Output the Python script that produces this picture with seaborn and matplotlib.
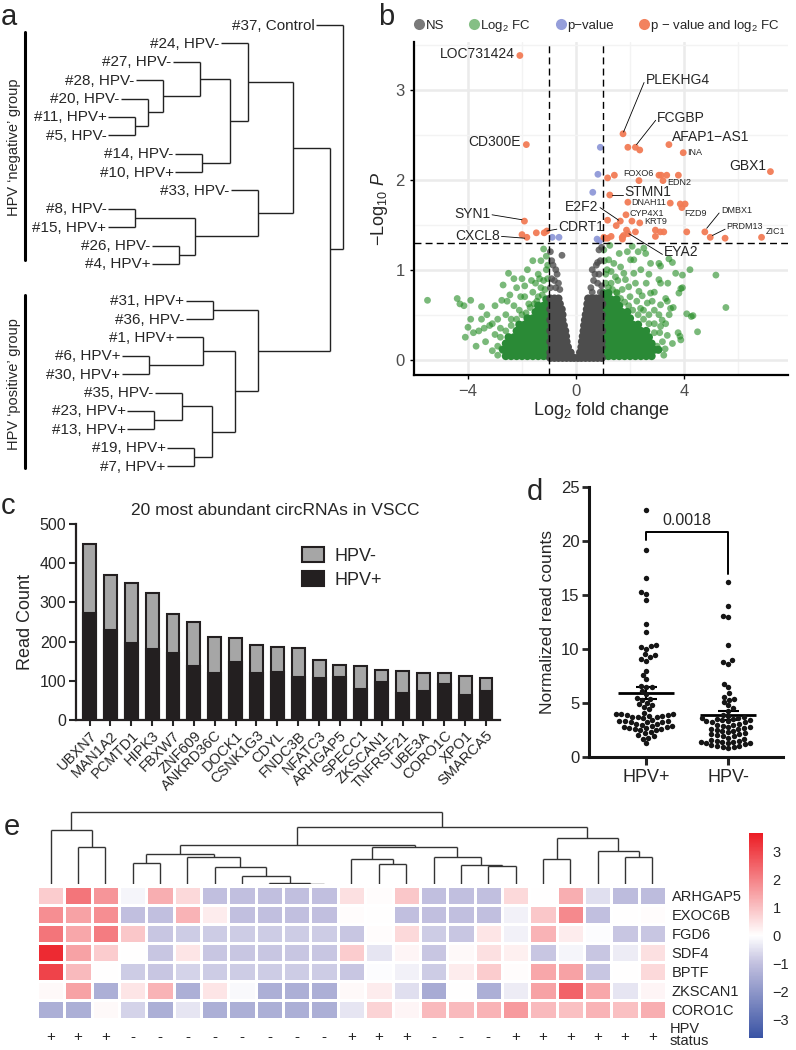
import numpy as np
import pandas as pd
import matplotlib
matplotlib.use("Agg")
import matplotlib.pyplot as plt
import seaborn as sns
from matplotlib.colors import LinearSegmentedColormap
from matplotlib.lines import Line2D
from matplotlib.patches import Patch

# ====================== DATA ======================
# ---- panel a: hierarchical clustering of samples (leaf, leaf, merge height) ----
neg_a = (("#24, HPV-",
          (("#27, HPV-", ("#28, HPV-", ("#20, HPV-", ("#11, HPV+", "#5, HPV-", 135), 148), 163), 200),
           ("#14, HPV-", "#10, HPV+", 202), 230), 248),
         ("#33, HPV-",
          (("#8, HPV-", "#15, HPV+", 135), ("#26, HPV-", "#4, HPV+", 179), 195), 258), 293)
pos_a = (("#31, HPV+", "#36, HPV-", 213),
         (("#1, HPV+", ("#6, HPV+", "#30, HPV+", 149), 203),
          (("#35, HPV-", ("#23, HPV+", "#13, HPV+", 154), 182), ("#19, HPV+", "#7, HPV+", 194), 212), 235), 258)
tree_a = ("#37, Control", (neg_a, pos_a, 330), 343)
group_labels_a = ["HPV \u2018negative\u2019 group", "HPV \u2018positive\u2019 group"]

# ---- panel b: volcano plot ----
orange_pts = [(-2.08, 3.38), (-1.84, 2.39), (-1.91, 1.54), (-1.82, 1.36), (-2.0, 1.39), (-1.47, 1.41),
              (-1.18, 1.41), (-1.08, 1.43), (1.74, 2.51), (1.92, 2.36), (2.20, 2.36), (2.36, 2.33),
              (3.44, 2.39), (3.97, 2.30), (7.20, 2.09), (1.17, 2.02), (1.42, 2.05), (2.33, 1.99),
              (3.07, 2.05), (3.15, 2.05), (3.36, 2.05), (3.79, 2.05), (3.22, 1.99), (1.25, 1.83),
              (1.92, 1.75), (3.49, 1.74), (3.86, 1.73), (4.04, 1.73), (3.92, 1.69), (1.85, 1.61),
              (1.64, 1.54), (1.49, 1.49), (1.17, 1.55), (2.07, 1.54), (2.36, 1.52), (1.87, 1.44),
              (2.20, 1.42), (2.94, 1.44), (3.12, 1.42), (3.25, 1.42), (4.10, 1.42), (4.77, 1.42),
              (4.97, 1.36), (5.52, 1.35), (6.87, 1.36), (1.03, 1.36), (1.08, 1.35), (1.17, 1.35),
              (1.30, 1.37), (1.71, 1.36), (1.76, 1.38), (1.93, 1.40), (2.94, 1.37), (1.72, 1.34)]
blue_pts = [(0.90, 2.36), (0.81, 2.06), (0.62, 1.86), (-0.88, 1.36), (-0.63, 1.36), (0.78, 1.34), (0.87, 1.32)]
green_sparse = [(-5.5, 0.66), (-4.4, 0.68), (-4.15, 0.6), (-3.9, 0.66), (-4.3, 0.62), (-3.5, 0.59), (-4.1, 0.25),
                (-4.0, 0.36), (-3.8, 0.3), (-3.6, 0.32), (-3.9, 0.45), (-3.5, 0.45), (-3.3, 0.5), (-3.2, 0.38),
                (-3.0, 0.28), (-3.1, 0.4), (-2.9, 0.45), (-2.8, 0.35), (-2.75, 0.66), (-2.7, 0.83), (-2.5, 0.96),
                (-2.45, 0.72), (-2.3, 0.6), (-2.2, 0.8), (-2.0, 0.9), (-1.9, 0.7), (-1.8, 1.0), (-1.6, 1.1),
                (-1.5, 0.85), (-1.4, 0.95), (-1.3, 1.1), (-1.2, 1.23), (-1.1, 1.0), (-1.05, 0.9), (-1.3, 0.8),
                (-1.6, 0.75), (-2.1, 0.55), (-3.35, 0.2), (-3.7, 0.15), (-2.6, 0.5), (-2.4, 0.45), (-2.9, 0.15),
                (-1.1, 1.15), (-1.45, 0.65), (-1.75, 0.62), (-2.05, 0.7),
                (-1.15, 0.78), (-1.25, 0.72), (-1.4, 0.7), (-1.55, 0.62), (-1.7, 0.58), (-1.85, 0.52),
                (-2.0, 0.5), (-2.2, 0.45), (-2.4, 0.38), (-2.6, 0.32), (-2.8, 0.25), (-2.75, 0.12),
                (-2.9, 0.05), (-3.1, 0.1), (-1.2, 0.88), (-1.35, 0.9), (-1.65, 0.88), (-1.9, 0.82),
                (-2.3, 0.9), (-1.05, 1.05), (-3.0, 0.6), (-3.4, 0.35), (-2.55, 0.65),
                (2.08, 1.26), (2.51, 1.24), (2.58, 1.18), (2.02, 1.11), (2.14, 1.11), (2.76, 1.07), (3.07, 1.07),
                (3.13, 1.04), (3.44, 1.12), (3.57, 1.08), (4.22, 1.0), (5.18, 0.94), (5.55, 0.58), (4.5, 0.31),
                (4.27, 0.48), (4.1, 0.51), (3.85, 0.26), (3.78, 0.3), (3.38, 0.27), (3.57, 0.18), (3.88, 0.22),
                (3.69, 0.96), (3.94, 0.94), (3.07, 0.89), (3.13, 0.85), (3.88, 0.79), (3.94, 0.8), (3.81, 0.74),
                (3.32, 0.68), (3.38, 0.65), (3.5, 0.57), (3.6, 0.58), (3.13, 0.61), (3.07, 0.5), (3.19, 0.44),
                (3.32, 0.4), (3.13, 0.37), (2.76, 0.74), (2.82, 0.65), (2.64, 0.63), (2.39, 0.57), (2.14, 0.96),
                (2.2, 0.85), (2.33, 0.76), (2.45, 0.71), (1.65, 1.03), (1.77, 0.96), (1.46, 0.92), (1.4, 1.07),
                (1.83, 0.89), (1.95, 0.81), (1.71, 0.78), (1.52, 0.74), (1.03, 1.22), (1.21, 1.11), (1.1, 0.95),
                (1.3, 0.85), (2.9, 0.3), (3.0, 0.15), (2.7, 0.5), (2.5, 0.55), (2.9, 0.55), (3.3, 0.12),
                (3.45, 0.5), (2.3, 1.2), (1.6, 1.18), (1.25, 1.27), (1.9, 1.2), (4.33, 0.49),
                (1.1, 0.85), (1.2, 0.8), (1.35, 0.78), (1.5, 0.75), (1.65, 0.68), (1.8, 0.64), (1.95, 0.6),
                (2.1, 0.55), (2.3, 0.5), (2.5, 0.45), (2.7, 0.4), (2.9, 0.4), (3.1, 0.3), (3.2, 0.2),
                (3.25, 0.05), (1.15, 1.0), (1.3, 0.98), (1.55, 0.88), (2.0, 0.7), (2.25, 0.65), (2.6, 0.85),
                (2.9, 0.75), (3.4, 0.85), (1.05, 1.1), (2.4, 1.0), (2.7, 0.95)]
green_dense_y = [0.04, 0.11, 0.18, 0.25, 0.32, 0.39, 0.46, 0.53, 0.60, 0.67, 0.74]
green_dense_x = [
    [-2.6, -2.4, -2.2, -2.0, -1.8, -1.6, -1.4, -1.2, -1.02, 1.02, 1.2, 1.4, 1.6, 1.8, 2.0, 2.2, 2.4, 2.6, 2.8],
    [-2.7, -2.5, -2.3, -2.1, -1.9, -1.7, -1.5, -1.3, -1.1, 1.1, 1.3, 1.5, 1.7, 1.9, 2.1, 2.3, 2.5, 2.7, 2.9, 3.05],
    [-2.6, -2.4, -2.2, -2.0, -1.8, -1.6, -1.4, -1.2, -1.02, 1.02, 1.2, 1.4, 1.6, 1.8, 2.0, 2.2, 2.4, 2.6, 2.8],
    [-2.5, -2.3, -2.1, -1.9, -1.7, -1.5, -1.3, -1.1, 1.1, 1.3, 1.5, 1.7, 1.9, 2.1, 2.3, 2.5, 2.7],
    [-2.2, -2.0, -1.8, -1.6, -1.4, -1.2, -1.02, 1.02, 1.2, 1.4, 1.6, 1.8, 2.0, 2.2, 2.4, 2.6],
    [-2.1, -1.9, -1.7, -1.5, -1.3, -1.1, 1.1, 1.3, 1.5, 1.7, 1.9, 2.1, 2.3],
    [-1.8, -1.6, -1.4, -1.2, -1.02, 1.02, 1.2, 1.4, 1.6, 1.8, 2.0],
    [-1.5, -1.3, -1.1, 1.1, 1.3, 1.5, 1.7, 1.9],
    [-1.4, -1.2, -1.02, 1.02, 1.2, 1.4, 1.6],
    [-1.1, 1.1, 1.3, 1.5],
    [1.02, 1.2]]
grey_sparse = [(-0.95, 1.2), (-0.9, 1.1), (-0.85, 1.05), (-0.75, 1.0), (-0.7, 0.95), (-0.9, 0.9), (-0.8, 0.88),
               (-0.65, 0.85), (-0.75, 0.8), (-0.6, 0.78), (-0.95, 0.8), (-0.52, 1.16), (0.85, 1.22), (0.95, 1.25),
               (0.9, 1.1), (0.8, 1.08), (0.75, 1.05), (0.6, 1.0), (0.7, 0.95), (0.85, 0.95), (0.65, 0.88),
               (0.8, 0.85), (0.55, 0.8), (0.95, 0.82), (0.9, 0.75), (0.6, 0.75)]
grey_dense_y = [0.02, 0.08, 0.14, 0.20, 0.26, 0.32, 0.38, 0.44, 0.50, 0.56, 0.62, 0.68]
grey_dense_x = [
    [-0.95, -0.8, -0.65, -0.5, -0.35, -0.2, -0.07, 0.07, 0.2, 0.35, 0.5, 0.65, 0.8, 0.95],
    [-0.95, -0.8, -0.65, -0.5, -0.35, -0.2, 0.15, 0.3, 0.45, 0.6, 0.75, 0.9],
    [-0.9, -0.75, -0.6, -0.45, -0.3, 0.2, 0.35, 0.5, 0.65, 0.8, 0.95],
    [-0.95, -0.8, -0.65, -0.5, -0.35, 0.22, 0.37, 0.52, 0.67, 0.82, 0.95],
    [-0.9, -0.75, -0.6, -0.45, -0.37, 0.25, 0.4, 0.55, 0.7, 0.85],
    [-0.95, -0.8, -0.65, -0.5, -0.4, 0.28, 0.43, 0.58, 0.73, 0.88, 0.97],
    [-0.9, -0.75, -0.6, -0.45, 0.3, 0.45, 0.6, 0.75, 0.9],
    [-0.95, -0.8, -0.65, -0.5, 0.33, 0.48, 0.63, 0.78, 0.93],
    [-0.9, -0.75, -0.6, -0.5, 0.36, 0.5, 0.65, 0.8, 0.95],
    [-0.95, -0.8, -0.65, -0.53, 0.4, 0.55, 0.7, 0.85],
    [-0.9, -0.75, -0.6, 0.42, 0.57, 0.72, 0.87, 0.97],
    [-0.95, -0.8, -0.65, 0.45, 0.6, 0.75, 0.9]]
# gene labels: name, point(x,y), text(x,y), size, ha
volcano_labels = [
    ("LOC731424", None, (-2.26, 3.40), 10, "right"),
    ("PLEKHG4", (1.76, 2.53), (2.58, 3.11), 10, "left"),
    ("FCGBP", (2.24, 2.39), (3.01, 2.69), 10, "left"),
    ("AFAP1\u2212AS1", None, (3.57, 2.47), 10, "left"),
    ("GBX1", None, (7.06, 2.15), 10, "right"),
    ("CD300E", None, (-2.05, 2.42), 10, "right"),
    ("STMN1", (1.34, 1.83), (1.80, 1.86), 10, "left"),
    ("E2F2", (1.58, 1.55), (0.84, 1.70), 10, "right"),
    ("SYN1", (-2.0, 1.555), (-3.16, 1.62), 10, "right"),
    ("CDRT1", (-1.08, 1.43), (-0.65, 1.48), 10, "left"),
    ("CXCL8", (-1.9, 1.35), (-2.81, 1.38), 10, "right"),
    ("EYA2", (1.96, 1.40), (3.26, 1.20), 10, "left"),
    ("INA", None, (4.13, 2.30), 6.5, "left"),
    ("FOXO6", None, (1.75, 2.07), 6.5, "left"),
    ("EDN2", None, (3.38, 1.97), 6.5, "left"),
    ("DNAH11", None, (2.06, 1.75), 6.5, "left"),
    ("FZD9", None, (4.0, 1.62), 6.5, "left"),
    ("CYP4X1", None, (1.99, 1.63), 6.5, "left"),
    ("KRT9", None, (2.51, 1.54), 6.5, "left"),
    ("DMBX1", (4.84, 1.46), (5.36, 1.66), 6.5, "left"),
    ("PRDM13", (5.05, 1.38), (5.58, 1.48), 6.5, "left"),
    ("ZIC1", None, (7.01, 1.42), 6.5, "left"),
]
fc_cutoff = 1.0
p_cutoff = 1.30103

# ---- panel c: stacked bars ----
circ_names = ["UBXN7", "MAN1A2", "PCMTD1", "HIPK3", "FBXW7", "ZNF609", "ANKRD36C", "DOCK1", "CSNK1G3", "CDYL",
              "FNDC3B", "NFATC3", "ARHGAP5", "SPECC1", "ZKSCAN1", "TNFRSF21", "UBE3A", "CORO1C", "XPO1", "SMARCA5"]
circ_total = [449, 371, 349, 325, 270, 251, 212, 208, 191, 187, 184, 153, 140, 137, 127, 125, 121, 121, 113, 106]
circ_hpv_pos = [273, 229, 197, 181, 172, 137, 119, 147, 121, 123, 110, 108, 110, 78, 98, 68, 75, 92, 64, 75]

# ---- panel d: normalized read counts ----
groups_d = ["HPV+", "HPV-"]
counts_hpv_pos = [22.9, 19.2, 16.6, 15.3, 15.1, 14.5, 12.3, 11.6, 10.4, 10.3, 10.2, 10.0, 9.5, 9.4, 9.3, 9.1,
                  8.9, 8.0, 7.6, 7.2, 6.6, 6.5, 6.5, 6.1, 5.8, 5.5, 5.4, 5.3, 5.0, 4.9, 4.8, 4.6, 4.4,
                  4.1, 4.0, 4.0, 4.0, 3.9, 3.9, 3.8, 3.8, 3.7, 3.7, 3.7, 3.6, 3.4, 3.3, 3.3, 3.3, 3.2, 3.2,
                  3.2, 3.1, 3.1, 3.0, 2.9, 2.9, 2.8, 2.8, 2.7, 2.7, 2.6, 2.6, 2.5, 2.5, 2.3, 2.2, 2.0, 1.9,
                  1.8, 1.7, 1.3]
counts_hpv_neg = [16.2, 14.0, 13.1, 13.0, 10.4, 9.0, 8.8, 8.6, 6.8, 6.5, 5.9, 5.6, 5.4, 5.3, 5.1, 4.8, 4.5, 4.3,
                  3.9, 3.8, 3.7, 3.6, 3.6, 3.5, 3.5, 3.4, 3.4, 3.3, 3.3, 3.2, 3.2, 3.1, 3.0, 3.0, 2.9, 2.8,
                  2.8, 2.7, 2.6, 2.6, 2.5, 2.4, 2.4, 2.3, 2.2, 2.1, 2.1, 2.0, 1.9, 1.9, 1.8, 1.7, 1.6, 1.5,
                  1.5, 1.4, 1.4, 1.4, 1.3, 1.3, 1.3, 1.2, 1.1, 1.0, 1.0, 0.9, 0.9, 0.8]
p_value_text = "0.0018"

# ---- panel e: heatmap ----
heat_genes = ["ARHGAP5", "EXOC6B", "FGD6", "SDF4", "BPTF", "ZKSCAN1", "CORO1C"]
heat_status = ["+", "+", "+", "-", "-", "-", "-", "-", "-", "-", "-", "+", "+", "+", "-", "-", "-",
               "+", "+", "+", "+", "+", "+"]
heat_values = [
    [0.8, 2.2, 1.7, -0.15, 1.3, 0.6, -1.0, -1.0, -1.0, -1.0, -1.0, 0.5, 0.05, 0.9, -1.0, -1.0, -1.0, 0.6, 0.0, 1.3, -0.5, -1.1, -1.1],
    [1.8, 1.5, 1.8, -1.0, -1.0, 1.2, 0.3, -1.0, -1.0, -1.0, -1.0, 0.05, 0.0, -1.0, -1.0, -1.0, -1.0, -0.2, 0.9, 1.9, -1.0, 0.0, 0.05],
    [2.2, 1.4, 2.1, 0.9, -0.9, -0.8, -0.8, -0.8, -0.8, -0.8, -0.8, -0.9, 0.05, 0.6, -0.8, -0.9, 0.4, -0.2, 1.2, 0.3, -0.05, -0.9, -0.9],
    [3.4, 1.5, 0.8, 0.0, -0.9, 0.4, -0.9, -0.9, -0.9, -0.9, -0.9, 0.8, -0.4, 0.15, -0.9, 0.1, 0.5, 0.25, -0.9, -0.15, -0.9, -0.3, 0.5],
    [3.0, 1.1, 0.0, -0.8, -0.9, -0.7, -0.8, -0.8, -0.8, -0.8, -0.8, -0.9, -0.05, -0.2, -0.8, 0.3, 0.8, 0.05, 1.4, 1.5, -0.9, 0.0, 0.6],
    [0.1, 1.5, -1.4, 0.4, 1.2, -1.4, 0.4, -0.1, -1.4, -1.4, -1.4, 0.1, 0.3, -0.5, -1.5, 0.0, -1.4, -0.3, 1.5, 2.5, 1.4, -0.4, 0.15],
    [-1.4, -1.4, 0.1, -0.7, -1.4, -0.4, -1.4, -1.4, -1.4, -1.4, -1.4, -0.4, 0.7, 0.15, 1.1, 1.1, 1.2, 1.6, 1.1, 1.0, 1.2, 1.0, 1.3]]
# column dendrogram (leaf index, leaf index, merge height)
tree_e = ((0, (1, 2, 36.7), 54),
          ((((3, 4, 21.3), (5, (6, (7, (8, (9, 10, 0.3), 0.6), 8), 16.7), 27), 30),
            ((11, (12, 13, 20), 24.7), (14, (15, (16, 17, 18), 18.7), 27.3), 36.7), 39),
           ((18, 19, 25), (20, (21, 22, 27.3), 33.3), 45.7), 57.3), 71.7)
heat_range = 3.65

# ====================== STYLE ======================
sns.set_theme(style="ticks")
plt.rcParams["font.family"] = ["Liberation Sans", "DejaVu Sans"]
plt.rcParams["mathtext.fontset"] = "custom"
plt.rcParams["mathtext.rm"] = "Liberation Sans"
plt.rcParams["mathtext.it"] = "Liberation Sans:italic"
plt.rcParams["axes.unicode_minus"] = True

W, H = 796, 1050
fig = plt.figure(figsize=(W / 100, H / 100), dpi=100)


def px_axes(x0, y0, x1, y1):
    return fig.add_axes([x0 / W, 1 - y1 / H, (x1 - x0) / W, (y1 - y0) / H])


def panel_label(x, y, s):
    fig.text(x / W, 1 - y / H, s, fontsize=21, va="baseline", ha="left")


# ====================== PANEL A ======================
ax_a = px_axes(0, 0, 398, 490)
ax_a.set_xlim(0, 398)
ax_a.set_ylim(490, 0)
ax_a.axis("off")


def leaves(node):
    if isinstance(node, str):
        return [node]
    return leaves(node[0]) + leaves(node[1])


leaf_order = leaves(tree_a)
leaf_y = {}
slot = 0
for name in leaf_order:
    if name == "#31, HPV+":
        slot += 1
    leaf_y[name] = 25 + 18.38 * slot
    slot += 1
hang_a = 27
lk = dict(color="#222222", lw=1.0, solid_capstyle="butt")


def draw_a(node):
    if isinstance(node, str):
        return leaf_y[node], None
    l, r, h = node
    ys = []
    for ch in (l, r):
        y, hc = draw_a(ch)
        if hc is None:
            x0 = h - hang_a
            ax_a.plot([x0, h], [y, y], **lk)
            ax_a.text(x0 - 1.5, y + 0.5, ch, ha="right", va="center", fontsize=11)
        else:
            ax_a.plot([hc, h], [y, y], **lk)
        ys.append(y)
    ax_a.plot([h, h], ys, **lk)
    return sum(ys) / 2, h


draw_a(tree_a)
ax_a.plot([25, 25], [32, 260], color="black", lw=2.2)
ax_a.plot([25, 25], [295, 468], color="black", lw=2.2)
ax_a.text(14, 147, group_labels_a[0], rotation=90, ha="center", va="center", fontsize=10.5)
ax_a.text(14, 384, group_labels_a[1], rotation=90, ha="center", va="center", fontsize=10.5)
panel_label(1, 25, "a")

# ====================== PANEL B ======================
ax_b = px_axes(414, 42, 788, 375)
ax_b.set_axisbelow(True)


def pts_df(pts):
    return pd.DataFrame(pts, columns=["log2fc", "nlogp"])


green_rows = [(x, y) for y, xs in zip(green_dense_y, green_dense_x) for x in xs]
grey_rows = [(x, y) for y, xs in zip(grey_dense_y, grey_dense_x) for x in xs]
sns.scatterplot(data=pts_df(green_sparse), x="log2fc", y="nlogp", color="#228B22", alpha=0.6,
                s=24, edgecolor="none", ax=ax_b, legend=False)
sns.scatterplot(data=pts_df(green_rows), x="log2fc", y="nlogp", color="#2a8a36", alpha=1.0,
                s=34, edgecolor="none", ax=ax_b, legend=False)
sns.scatterplot(data=pts_df(grey_sparse), x="log2fc", y="nlogp", color="#4d4d4d", alpha=0.8,
                s=24, edgecolor="none", ax=ax_b, legend=False)
sns.scatterplot(data=pts_df(grey_rows), x="log2fc", y="nlogp", color="#4d4d4d", alpha=1.0,
                s=34, edgecolor="none", ax=ax_b, legend=False)
sns.scatterplot(data=pts_df(blue_pts), x="log2fc", y="nlogp", color="#8f99d8", alpha=0.95,
                s=24, edgecolor="none", ax=ax_b, legend=False)
sns.scatterplot(data=pts_df(orange_pts), x="log2fc", y="nlogp", color="#f27b55", alpha=0.95,
                s=24, edgecolor="none", ax=ax_b, legend=False)
for xv in (-fc_cutoff, fc_cutoff):
    ax_b.axvline(xv, color="black", lw=1.0, ls=(0, (5, 3)))
ax_b.axhline(p_cutoff, color="black", lw=1.0, ls=(0, (5, 3)))
for name, pt, tp, fs, ha in volcano_labels:
    ax_b.text(tp[0], tp[1], name, fontsize=fs, ha=ha, va="center")
    if pt is not None:
        end = (tp[0] - 0.06, tp[1] - 0.03) if ha == "left" else (tp[0] + 0.05, tp[1] - 0.01)
        ax_b.plot([pt[0], end[0]], [pt[1], end[1]], color="black", lw=0.6)
ax_b.set_xlim(-6.0, 7.85)
ax_b.set_ylim(-0.17, 3.53)
ax_b.set_xticks([-4, 0, 4])
ax_b.set_xticks([-6, -2, 2, 6], minor=True)
ax_b.set_yticks([0, 1, 2, 3])
ax_b.set_yticks([0.5, 1.5, 2.5, 3.5], minor=True)
ax_b.grid(which="major", color="#ebebeb", lw=1.8)
ax_b.grid(which="minor", color="#f3f3f3", lw=1.0)
ax_b.tick_params(which="minor", length=0)
ax_b.tick_params(which="major", length=3, width=1, labelsize=12, colors="black", labelcolor="#4d4d4d")
for s in ("top", "right"):
    ax_b.spines[s].set_visible(False)
for s in ("left", "bottom"):
    ax_b.spines[s].set_linewidth(1.6)
    ax_b.spines[s].set_color("black")
ax_b.set_xlabel("Log$_2$ fold change", fontsize=13, labelpad=1)
ax_b.set_ylabel("\u2212Log$_{10}$ $\\it{P}$", fontsize=13, labelpad=4)
leg_handles = [Line2D([], [], marker="o", ls="none", color=c, alpha=a, markersize=8, markeredgewidth=0)
               for c, a in (("#4d4d4d", 0.75), ("#228B22", 0.55), ("#8f99d8", 0.95), ("#f27b55", 0.95))]
ax_b.legend(leg_handles, ["NS", "Log$_2$ FC", "p\u2212value", "p \u2212 value and log$_2$ FC"],
            loc="lower left", bbox_to_anchor=(-0.02, 1.0), ncol=4, frameon=False, fontsize=9.5,
            handlelength=0.7, handletextpad=0.15, columnspacing=1.9, borderaxespad=0.2)
panel_label(378, 25, "b")

# ====================== PANEL C ======================
ax_c = px_axes(76, 524, 500, 720)
dfc = pd.DataFrame({"circRNA": circ_names, "total": circ_total, "hpv_pos": circ_hpv_pos})
sns.barplot(data=dfc, x="circRNA", y="total", order=circ_names, color="#a6a6a6", saturation=1,
            edgecolor="#231f20", linewidth=1.5, width=0.62, ax=ax_c)
sns.barplot(data=dfc, x="circRNA", y="hpv_pos", order=circ_names, color="#231f20", saturation=1,
            edgecolor="#231f20", linewidth=1.5, width=0.62, ax=ax_c)
ax_c.set_xlim(-0.65, 19.67)
ax_c.set_ylim(0, 500)
ax_c.set_yticks([0, 100, 200, 300, 400, 500])
ax_c.set_xlabel("")
ax_c.set_ylabel("Read Count", fontsize=13, labelpad=4)
ax_c.tick_params(axis="y", length=5, width=1.5, labelsize=11.5, pad=2)
ax_c.tick_params(axis="x", length=4, width=1.5, pad=2)
ax_c.set_xticks(range(len(circ_names)))
ax_c.set_xticklabels(circ_names, rotation=45, ha="right", rotation_mode="anchor", fontsize=10.5)
for s in ("top", "right"):
    ax_c.spines[s].set_visible(False)
for s in ("left", "bottom"):
    ax_c.spines[s].set_linewidth(1.6)
    ax_c.spines[s].set_color("#231f20")
ax_c.text(0.47, 1.07, "20 most abundant circRNAs in VSCC", transform=ax_c.transAxes, ha="center",
          va="center", fontsize=12.5)
ax_c.legend([Patch(facecolor="#a6a6a6", edgecolor="#231f20", lw=1.5),
             Patch(facecolor="#231f20", edgecolor="#231f20", lw=1.5)], ["HPV-", "HPV+"],
            loc="upper left", bbox_to_anchor=(0.515, 0.92), frameon=False, fontsize=13,
            handlelength=1.25, handleheight=0.9, handletextpad=0.6, labelspacing=0.35, borderaxespad=0)
panel_label(1, 514, "c")

# ====================== PANEL D ======================
ax_d = px_axes(589, 487, 783, 757)
dfd = pd.DataFrame({"group": ["HPV+"] * len(counts_hpv_pos) + ["HPV-"] * len(counts_hpv_neg),
                    "value": counts_hpv_pos + counts_hpv_neg})
sns.swarmplot(data=dfd, x="group", y="value", order=groups_d, color="#151515", size=3.9, ax=ax_d)
for i, g in enumerate(groups_d):
    vals = np.array(dfd.loc[dfd.group == g, "value"])
    m = vals.mean()
    se = vals.std(ddof=1) / np.sqrt(len(vals))
    ax_d.hlines(m, i - 0.34, i + 0.34, color="black", lw=2.0)
    ax_d.vlines(i, m - se, m + se, color="black", lw=1.5)
    ax_d.hlines([m - se, m + se], i - 0.13, i + 0.13, color="black", lw=1.5)
ax_d.plot([0, 0, 1, 1], [20.1, 20.8, 20.8, 16.9], color="black", lw=1.4)
ax_d.text(0.5, 21.2, p_value_text, ha="center", va="bottom", fontsize=11.5)
ax_d.set_xlim(-0.7, 1.67)
ax_d.set_ylim(0, 25)
ax_d.set_yticks([0, 5, 10, 15, 20, 25])
ax_d.set_xlabel("")
ax_d.set_ylabel("Normalized read counts", fontsize=12.5, labelpad=4)
ax_d.tick_params(axis="y", length=5, width=2, labelsize=12, pad=2)
ax_d.tick_params(axis="x", length=6, width=2.2, labelsize=13, pad=3)
for s in ("top", "right"):
    ax_d.spines[s].set_visible(False)
for s in ("left", "bottom"):
    ax_d.spines[s].set_linewidth(2.2)
    ax_d.spines[s].set_color("#151515")
panel_label(527, 500, "d")

# ====================== PANEL E ======================
ax_e = px_axes(37, 885.7, 666, 1019)
cax = px_axes(749, 833, 763, 1038)
cmap = LinearSegmentedColormap.from_list(
    "bwr_custom",
    [(0.0, "#3953a4"), ((heat_range - 1.0) / (2 * heat_range), "#c2c0df"), (0.5, "#ffffff"), (1.0, "#ec1c24")])
dfe = pd.DataFrame(heat_values, index=heat_genes)
sns.heatmap(dfe, cmap=cmap, vmin=-heat_range, vmax=heat_range, linewidths=0.9, linecolor="white",
            ax=ax_e, cbar_ax=cax, xticklabels=heat_status, yticklabels=heat_genes,
            cbar_kws={"ticks": [-3, -2, -1, 0, 1, 2, 3]})
ax_e.yaxis.tick_right()
ax_e.set_yticklabels(heat_genes, rotation=0, fontsize=10.5)
ax_e.set_xticklabels(heat_status, rotation=0, fontsize=11)
ax_e.tick_params(axis="y", length=0, pad=4)
ax_e.tick_params(axis="x", length=0, pad=8)
ax_e.set_xlabel("")
ax_e.set_ylabel("")
cax.tick_params(length=0, labelsize=10.5, pad=7)
for s in cax.spines.values():
    s.set_visible(False)
fig.text(670 / W, 1 - 1022 / H, "HPV\nstatus", fontsize=10.5, va="top", ha="left", linespacing=0.85)

ax_de = px_axes(37, 808, 666, 884)
ax_de.set_xlim(0, len(heat_status))
ax_de.set_ylim(0, 76)
ax_de.axis("off")
dk = dict(color="#333333", lw=1.0, solid_capstyle="butt")


def draw_e(node):
    if isinstance(node, int):
        return node + 0.5, 0.0
    l, r, h = node
    xs = []
    for ch in (l, r):
        x, hc = draw_e(ch)
        ax_de.plot([x, x], [hc, h], **dk)
        xs.append(x)
    ax_de.plot(xs, [h, h], **dk)
    return sum(xs) / 2, h


draw_e(tree_e)
panel_label(4, 835, "e")

fig.savefig("out.png", dpi=100)
